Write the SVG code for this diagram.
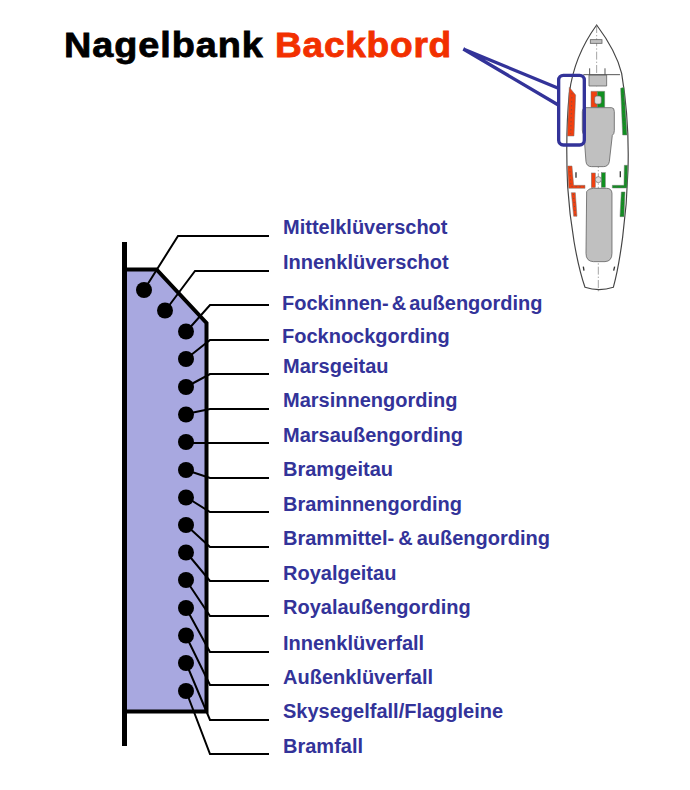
<svg xmlns="http://www.w3.org/2000/svg" width="690" height="790" viewBox="0 0 690 790">
<style>
.t{font-family:"Liberation Sans",Arial,sans-serif;font-weight:700;font-size:20px;fill:#333399}
.h{font-family:"Liberation Sans",Arial,sans-serif;font-weight:700;font-size:35px;stroke-width:.8px}
.c{fill:none;stroke:#000;stroke-width:2}
.d{fill:#000}
.hull{fill:#fff;stroke:#444;stroke-width:3.500}
.gr{fill:#c0c0c0;stroke:#666;stroke-width:2.500}
.r{fill:#f04010;stroke:#777;stroke-width:1.500}
.g{fill:#109020;stroke:#777;stroke-width:1.500}
.cl{fill:none;stroke:#777;stroke-width:2;stroke-dasharray:24 6 4 6}
.p{fill:none;stroke:#555;stroke-width:2.500;stroke-dasharray:3 9}
</style>
<rect width="690" height="790" fill="#fff"/>
<g id="title">
<text class="h" transform="translate(64 56.700) scale(1.080 1)" fill="#000" stroke="#000" letter-spacing=".9">Nagelbank</text>
<text class="h" transform="translate(275 56.700) scale(1.060 1)" fill="#f23000" stroke="#f23000" letter-spacing=".7">Backbord</text>
</g>
<g id="boat" transform="translate(450 10) scale(.3333)">
<path class="hull" d="M440 45C400 100 368 170 358 250C350 330 348 420 353 530C360 640 380 760 405 832Q447 846 490 832C510 760 530 620 534 480C537 380 530 280 515 190C500 130 470 85 440 45Z"/>
<path class="cl" d="M440 45V230M445 290V850"/>
<path class="gr" d="M417 195H470V228H417Z"/><path fill="none" stroke="#555" stroke-width="3" d="M419 175V195M465 175V195M400 194H510"/>
<rect class="gr" x="421" y="89" width="35" height="11"/>
<path class="r" d="M423 244H442V292H423Z"/><path class="g" d="M442 244H464V292H442Z"/>
<rect x="434" y="258" width="20" height="24" rx="6" fill="#ddd" stroke="#666" stroke-width="2"/>
<path class="gr" d="M407 293H485Q493 293 493 305V362Q493 372 487 376L478 455Q475 470 460 470H425Q410 470 408 455L402 375Q397 370 397 360V305Q397 293 407 293Z"/>
<path class="gr" d="M410 545Q415 535 430 535H470Q485 535 486 550V730Q486 754 465 755H430Q408 754 408 730Z"/>
<path class="g" d="M512 235L522 232L531 375H518Z"/><path class="p" d="M519 250L524 370"/>
<path class="r" d="M353 468H366L371 526H405V535H356Z"/><path class="p" d="M359 472L363 530H402"/>
<path class="g" d="M523 466H533L531 534H487V526H522Z"/><path class="p" d="M528 470L526 530H490"/>
<path class="r" d="M364 548H376L381 619H371Z"/><path class="p" d="M370 552L376 615"/>
<path class="g" d="M514 546H525L522 620H510Z"/><path class="p" d="M519 550L516 616"/>
<rect class="r" x="424" y="489" width="12" height="44"/><rect class="g" x="454" y="488" width="12" height="44"/>
<circle cx="445" cy="509" r="9" fill="#ddd" stroke="#666" stroke-width="2"/>
<path stroke="#333" stroke-width="4" fill="none" d="M378 487V503M511 484V502M400 770L402 782M494 770L491 782"/>
<path class="r" d="M358 232L377 255L372 378H352Z"/><path class="p" d="M366 250L362 372"/>
<path fill="none" stroke="#333399" stroke-width="10" stroke-linejoin="miter" d="M325 235L40 117L325 285"/>
<rect x="326" y="196" width="77" height="209" rx="14" fill="none" stroke="#333399" stroke-width="10"/>
</g>
<g id="rail"><path d="M126 269H157L206 323V711H126Z" fill="#a8a8e0"/>
<path d="M124.500 242V746" stroke="#000" stroke-width="5" fill="none"/>
<path d="M126 269.500H156.500L206.500 323V711.500H124" stroke="#000" stroke-width="4" fill="none"/></g>
<g id="connectors">
<path class="c" d="M144 290L178 236H269"/><path class="c" d="M165 311L195 271H269"/><path class="c" d="M186 332L210 305H269"/><path class="c" d="M186 359L210 340H269"/><path class="c" d="M186 387L210 374H269"/><path class="c" d="M186 414L210 409H269"/><path class="c" d="M186 443H269"/><path class="c" d="M186 470L210 478H269"/><path class="c" d="M186 497L210 512H269"/><path class="c" d="M186 525L210 547H269"/><path class="c" d="M186 552L210 581H269"/><path class="c" d="M186 580L210 616H269"/><path class="c" d="M186 608L210 652H269"/><path class="c" d="M186 636L210 685H269"/><path class="c" d="M186 663L210 720H269"/><path class="c" d="M186 691L210 754H269"/>
</g>
<g id="pins">
<circle class="d" cx="144" cy="290" r="8"/><circle class="d" cx="165" cy="310.500" r="8"/><circle class="d" cx="186" cy="331.500" r="8"/><circle class="d" cx="186" cy="359" r="8"/><circle class="d" cx="186" cy="387" r="8"/><circle class="d" cx="186" cy="414.500" r="8"/><circle class="d" cx="186" cy="442" r="8"/><circle class="d" cx="186" cy="470" r="8"/><circle class="d" cx="186" cy="497.500" r="8"/><circle class="d" cx="186" cy="525" r="8"/><circle class="d" cx="186" cy="552.500" r="8"/><circle class="d" cx="186" cy="580" r="8"/><circle class="d" cx="186" cy="608" r="8"/><circle class="d" cx="186" cy="635.500" r="8"/><circle class="d" cx="186" cy="663" r="8"/><circle class="d" cx="186" cy="691" r="8"/>
</g>
<g id="labels">
<text class="t" x="283" y="234">Mittelklüverschot</text>
<text class="t" x="283" y="269">Innenklüverschot</text>
<text class="t" x="282" y="310" word-spacing="-2.500">Fockinnen- &amp; außengording</text>
<text class="t" x="282" y="343">Focknockgording</text>
<text class="t" x="283" y="373">Marsgeitau</text>
<text class="t" x="283" y="407">Marsinnengording</text>
<text class="t" x="283" y="442">Marsaußengording</text>
<text class="t" x="283" y="476">Bramgeitau</text>
<text class="t" x="283" y="511">Braminnengording</text>
<text class="t" x="283" y="545" word-spacing="-1.500">Brammittel- &amp; außengording</text>
<text class="t" x="283" y="580">Royalgeitau</text>
<text class="t" x="283" y="614">Royalaußengording</text>
<text class="t" x="283" y="650">Innenklüverfall</text>
<text class="t" x="283" y="684">Außenklüverfall</text>
<text class="t" x="283" y="718">Skysegelfall/Flaggleine</text>
<text class="t" x="283" y="753">Bramfall</text>
</g>
</svg>
